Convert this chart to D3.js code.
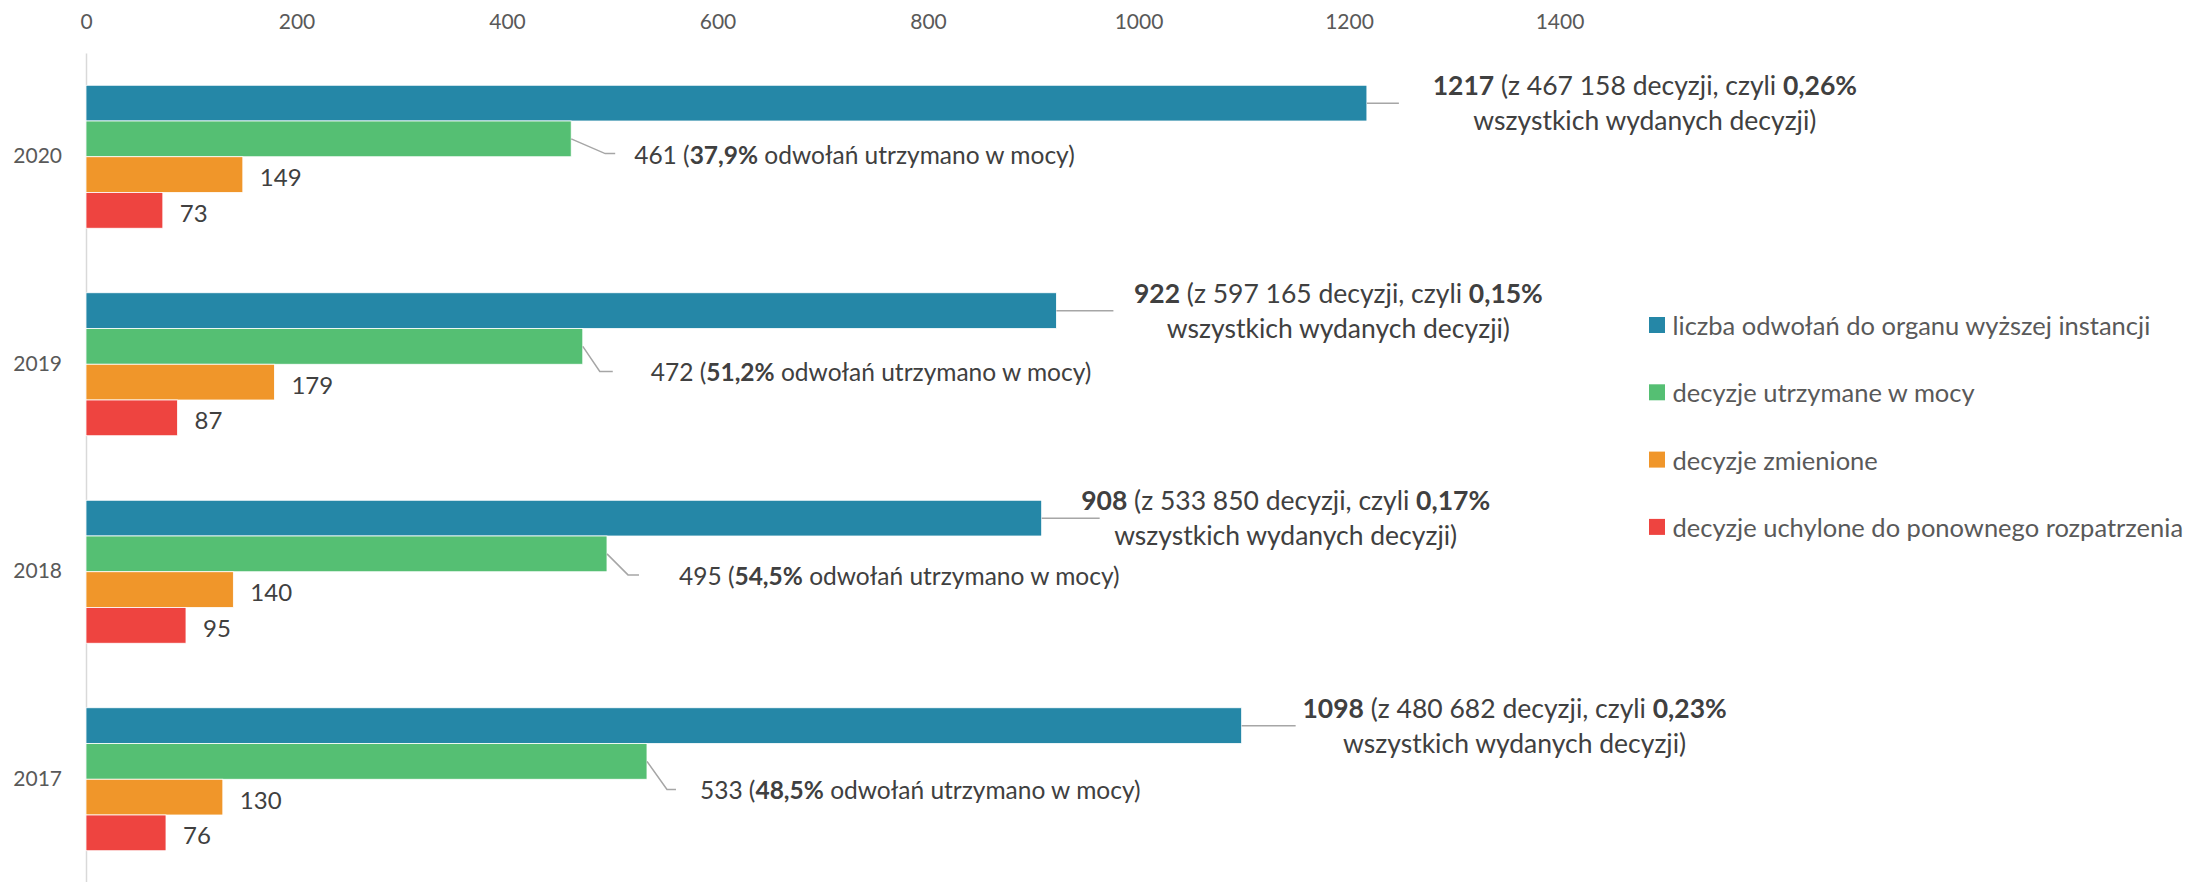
<!DOCTYPE html>
<html>
<head>
<meta charset="utf-8">
<script src="https://cdn.jsdelivr.net/npm/d3@7/dist/d3.min.js"></script>
<style>
  html, body { margin: 0; padding: 0; background: #fff; }
  svg { display: block; font-family: Lato, "Open Sans", sans-serif; }
</style>
</head>
<body>
<svg id="chart" width="2198" height="882"></svg>
<script>
// ---- data ----
const years = ["2020", "2019", "2018", "2017"];
const appeals = [1217, 922, 908, 1098];
const upheld = [461, 472, 495, 533];
const changed = [149, 179, 140, 130];
const revoked = [73, 87, 95, 76];
const totalDecisions = ["467 158", "597 165", "533 850", "480 682"];
const appealShare = ["0,26%", "0,15%", "0,17%", "0,23%"];
const upheldShare = ["37,9%", "51,2%", "54,5%", "48,5%"];
const tickValues = [0, 200, 400, 600, 800, 1000, 1200, 1400];
const seriesNames = [
  "liczba odwołań do organu wyższej instancji",
  "decyzje utrzymane w mocy",
  "decyzje zmienione",
  "decyzje uchylone do ponownego rozpatrzenia"
];
const seriesKeys = ["appeals", "upheld", "changed", "revoked"];
const seriesColors = ["#2587a7", "#55bf73", "#f0962a", "#ee4440"];

const rows = years.map((yr, i) => ({
  year: yr, appeals: appeals[i], upheld: upheld[i], changed: changed[i], revoked: revoked[i],
  total: totalDecisions[i], share: appealShare[i], upShare: upheldShare[i]
}));

// ---- label layout (manual placement of the callouts, px) ----
const blueLeader = [32, 57, 58, 54];        // leader length after bar end
const blueCenter = [278, 282, 244, 273];    // text centre after bar end
const greenText = [63, 68, 72, 53];         // text start after bar end
const greenDy = [14.7, 25, 21, 28];         // text centre below bar centre
const greenElbow = [34, 17, 21, 20];        // leader elbow after bar end
const greenEnd = [44, 30, 32, 29];          // leader end after bar end

const blueSize = 26.5;
const labelSize = 24.5;
const smallSize = 24;
const axisSize = 21;
const legendSize = 25.5;

// ---- scales ----
const svg = d3.select("#chart");
const x = d3.scaleLinear().domain([0, 1400]).range([86, 1559.5]);
const y0 = d3.scaleBand().domain(years).range([53, 883]).paddingInner(0.311).paddingOuter(0.1555);
const y1 = d3.scaleBand().domain(seriesKeys).range([0, y0.bandwidth()]).padding(0);
const color = d3.scaleOrdinal().domain(seriesKeys).range(seriesColors);

// ---- axes ----
const xAxis = svg.append("g").attr("transform", "translate(0,29)")
  .call(d3.axisTop(x).tickValues(tickValues).tickSize(0).tickPadding(0).tickFormat(d3.format("d")));
xAxis.select(".domain").remove();
xAxis.selectAll("text").attr("font-family", "Lato").attr("font-size", axisSize).attr("fill", "#595959");

const yAxis = svg.append("g").attr("transform", `translate(${x(0)},0)`)
  .call(d3.axisLeft(y0).tickSize(0).tickSizeOuter(0).tickPadding(24));
yAxis.select(".domain").attr("stroke", "#d9d9d9").attr("stroke-width", 1.5);
yAxis.selectAll("text").attr("font-family", "Lato").attr("font-size", axisSize).attr("fill", "#595959");

// ---- bars ----
const groups = svg.append("g").selectAll("g").data(rows).join("g")
  .attr("transform", d => `translate(0,${y0(d.year)})`);

groups.selectAll("rect").data(d => seriesKeys.map(k => ({ key: k, value: d[k] }))).join("rect")
  .attr("x", x(0))
  .attr("y", d => y1(d.key))
  .attr("width", d => x(d.value) - x(0))
  .attr("height", y1.bandwidth())
  .attr("fill", d => color(d.key))
  .attr("stroke", "#ffffff").attr("stroke-width", 0.8);

// ---- small labels (changed, revoked) ----
["changed", "revoked"].forEach(k => {
  groups.append("text")
    .attr("x", d => x(d[k]) + 17)
    .attr("y", d => y1(k) + y1.bandwidth() / 2 + 2)
    .attr("dominant-baseline", "central")
    .attr("font-size", smallSize).attr("fill", "#404040")
    .text(d => d[k]);
});

const leaderColor = "#a6a6a6";

// ---- callouts ----
groups.each(function (d, i) {
  const g = d3.select(this);
  const bx = x(d.appeals);
  const by = y1("appeals") + y1.bandwidth() / 2;
  g.append("line").attr("x1", bx).attr("x2", bx + blueLeader[i]).attr("y1", by).attr("y2", by)
    .attr("stroke", leaderColor).attr("stroke-width", 1.5);
  const t = g.append("text").attr("text-anchor", "middle").attr("font-size", blueSize).attr("fill", "#404040");
  const l1 = t.append("tspan").attr("x", bx + blueCenter[i]).attr("y", by - 8);
  l1.append("tspan").attr("font-weight", "bold").text(d.appeals);
  l1.append("tspan").text(` (z ${d.total} decyzji, czyli `);
  l1.append("tspan").attr("font-weight", "bold").text(d.share);
  t.append("tspan").attr("x", bx + blueCenter[i]).attr("y", by + 27).text("wszystkich wydanych decyzji)");

  // green callout
  const gx = x(d.upheld);
  const gy = y1("upheld") + y1.bandwidth() / 2;
  const ty = gy + greenDy[i];
  g.append("polyline")
    .attr("points", `${gx},${gy} ${gx + greenElbow[i]},${ty} ${gx + greenEnd[i]},${ty}`)
    .attr("fill", "none").attr("stroke", leaderColor).attr("stroke-width", 1.5);
  const t2 = g.append("text").attr("x", gx + greenText[i]).attr("y", ty)
    .attr("dominant-baseline", "central").attr("font-size", labelSize).attr("fill", "#404040");
  t2.append("tspan").text(`${d.upheld} (`);
  t2.append("tspan").attr("font-weight", "bold").text(d.upShare);
  t2.append("tspan").text(" odwołań utrzymano w mocy)");
});

// ---- legend ----
const legend = svg.append("g").attr("transform", "translate(1649,325)");
const li = legend.selectAll("g").data(seriesKeys).join("g")
  .attr("transform", (d, i) => `translate(0,${i * 67.3})`);
li.append("rect").attr("x", 0).attr("y", -8).attr("width", 16).attr("height", 16)
  .attr("fill", d => color(d));
li.append("text").attr("x", 23.5).attr("y", 0).attr("dominant-baseline", "central")
  .attr("font-size", legendSize).attr("fill", "#595959")
  .text((d, i) => seriesNames[i]);
</script>
</body>
</html>
